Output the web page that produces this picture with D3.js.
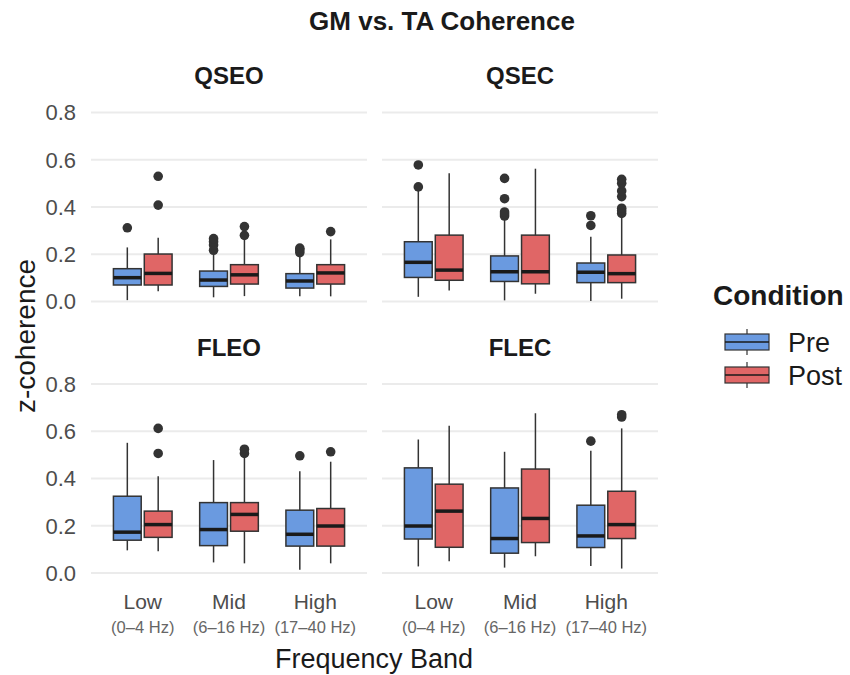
<!DOCTYPE html>
<html>
<head>
<meta charset="utf-8">
<script src="https://cdn.jsdelivr.net/npm/d3@7"></script>
<style>
body { margin: 0; background: #fff; }
text { font-family: "Liberation Sans", Arial, sans-serif; }
</style>
</head>
<body>
<div id="chart"></div>
<script>
// categories and labels
var bands = ["Low", "Mid", "High"];
var bandRanges = ["(0–4 Hz)", "(6–16 Hz)", "(17–40 Hz)"];
var conditions = ["Pre", "Post"];
var yTicks = [0, 0.2, 0.4, 0.6, 0.8];
var panelNames = ["QSEO", "QSEC", "FLEO", "FLEC"];

// box stats: band, condition, lower whisker, q1, median, q3, upper whisker, outliers
var qseo = [
    ["Low", "Pre", 0.006, 0.070, 0.101, 0.139, 0.229, [0.312]],
    ["Low", "Post", 0.044, 0.070, 0.119, 0.201, 0.270, [0.408, 0.530]],
    ["Mid", "Pre", 0.018, 0.064, 0.091, 0.129, 0.204, [0.217, 0.239, 0.253, 0.266]],
    ["Mid", "Post", 0.023, 0.074, 0.113, 0.156, 0.267, [0.280, 0.317]],
    ["High", "Pre", 0.022, 0.057, 0.087, 0.118, 0.197, [0.207, 0.218, 0.226]],
    ["High", "Post", 0.022, 0.074, 0.121, 0.156, 0.263, [0.296]]
];
var qsec = [
    ["Low", "Pre", 0.020, 0.102, 0.166, 0.253, 0.470, [0.485, 0.578]],
    ["Low", "Post", 0.047, 0.090, 0.133, 0.281, 0.543, []],
    ["Mid", "Pre", 0.005, 0.085, 0.126, 0.193, 0.352, [0.362, 0.370, 0.379, 0.435, 0.521]],
    ["Mid", "Post", 0.033, 0.075, 0.126, 0.281, 0.562, []],
    ["High", "Pre", 0.002, 0.080, 0.124, 0.163, 0.274, [0.322, 0.363]],
    ["High", "Post", 0.012, 0.080, 0.118, 0.197, 0.359, [0.373, 0.384, 0.395, 0.444, 0.468, 0.500, 0.517]]
];
var fleo = [
    ["Low", "Pre", 0.096, 0.139, 0.173, 0.325, 0.551, []],
    ["Low", "Post", 0.092, 0.151, 0.205, 0.262, 0.410, [0.506, 0.612]],
    ["Mid", "Pre", 0.045, 0.116, 0.184, 0.298, 0.478, []],
    ["Mid", "Post", 0.041, 0.177, 0.248, 0.298, 0.492, [0.506, 0.524]],
    ["High", "Pre", 0.014, 0.114, 0.164, 0.266, 0.431, [0.496]],
    ["High", "Post", 0.041, 0.114, 0.199, 0.273, 0.471, [0.513]]
];
var flec = [
    ["Low", "Pre", 0.028, 0.144, 0.199, 0.445, 0.565, []],
    ["Low", "Post", 0.050, 0.109, 0.262, 0.376, 0.623, []],
    ["Mid", "Pre", 0.023, 0.084, 0.146, 0.360, 0.513, []],
    ["Mid", "Post", 0.071, 0.129, 0.231, 0.440, 0.676, []],
    ["High", "Pre", 0.030, 0.108, 0.157, 0.287, 0.517, [0.558]],
    ["High", "Post", 0.019, 0.146, 0.205, 0.346, 0.612, [0.660, 0.670]]
];
var panelData = [qseo, qsec, fleo, flec];

var fillColors = ["#6a9ae0", "#e06666"];

// layout
var width = 850, height = 675;
var panelW = 276, panelH = 208;
var panelX = [91, 382];
var panelY = [103, 374.5];

var svg = d3.select("#chart")
    .append("svg")
    .attr("width", width)
    .attr("height", height);

var color = d3.scaleOrdinal().domain(conditions).range(fillColors);

// title
svg.append("text")
    .attr("x", 442)
    .attr("y", 30)
    .attr("text-anchor", "middle")
    .style("font-size", "26px")
    .style("font-weight", "bold")
    .attr("fill", "#1a1a1a")
    .text("GM vs. TA Coherence");

panelNames.forEach(function (name, i) {
    var col = i % 2, row = Math.floor(i / 2);
    var x0 = panelX[col], y0 = panelY[row];

    var x = d3.scalePoint()
        .domain(bands)
        .range([x0, x0 + panelW])
        .padding(0.6);
    var dodge = d3.scaleBand()
        .domain(conditions)
        .range([-x.step() * 0.34, x.step() * 0.34])
        .paddingInner(0.1);
    var y = d3.scaleLinear()
        .domain([-0.04, 0.84])
        .range([y0 + panelH, y0]);

    var g = svg.append("g");

    // gridlines
    g.selectAll(".grid")
        .data(yTicks)
        .enter()
        .append("line")
        .attr("x1", x0)
        .attr("x2", x0 + panelW)
        .attr("y1", function (d) { return y(d); })
        .attr("y2", function (d) { return y(d); })
        .attr("stroke", "#ebebeb")
        .attr("stroke-width", 2);

    // strip title
    g.append("text")
        .attr("x", x0 + panelW / 2)
        .attr("y", y0 - 19)
        .attr("text-anchor", "middle")
        .style("font-size", "24px")
        .style("font-weight", "bold")
        .attr("fill", "#1a1a1a")
        .text(name);

    // y tick labels on the left column
    if (col == 0) {
        g.selectAll(".ytick")
            .data(yTicks)
            .enter()
            .append("text")
            .attr("x", x0 - 15)
            .attr("y", function (d) { return y(d); })
            .attr("dy", "0.36em")
            .attr("text-anchor", "end")
            .style("font-size", "22px")
            .attr("fill", "#4d4d4d")
            .text(function (d) { return d3.format(".1f")(d); });
    }

    // x tick labels on the bottom row
    if (row == 1) {
        bands.forEach(function (b, j) {
            g.append("text")
                .attr("x", x(b))
                .attr("y", 609)
                .attr("text-anchor", "middle")
                .style("font-size", "21px")
                .attr("fill", "#4d4d4d")
                .text(b);
            g.append("text")
                .attr("x", x(b))
                .attr("y", 633)
                .attr("text-anchor", "middle")
                .style("font-size", "16.5px")
                .attr("fill", "#666")
                .text(bandRanges[j]);
        });
    }

    var rows = panelData[i];
    var bw = dodge.bandwidth();
    function cx(d) { return x(d[0]) + dodge(d[1]) + bw / 2; }

    // whiskers
    g.selectAll(".whisker")
        .data(rows)
        .enter()
        .append("line")
        .attr("x1", cx)
        .attr("x2", cx)
        .attr("y1", function (d) { return y(d[2]); })
        .attr("y2", function (d) { return y(d[6]); })
        .attr("stroke", "#333")
        .attr("stroke-width", 1.5);

    // boxes
    g.selectAll(".box")
        .data(rows)
        .enter()
        .append("rect")
        .attr("x", function (d) { return cx(d) - bw / 2; })
        .attr("width", bw)
        .attr("y", function (d) { return y(d[5]); })
        .attr("height", function (d) { return y(d[3]) - y(d[5]); })
        .attr("fill", function (d) { return color(d[1]); })
        .attr("stroke", "#333")
        .attr("stroke-width", 1.5);

    // medians
    g.selectAll(".median")
        .data(rows)
        .enter()
        .append("line")
        .attr("x1", function (d) { return cx(d) - bw / 2; })
        .attr("x2", function (d) { return cx(d) + bw / 2; })
        .attr("y1", function (d) { return y(d[4]); })
        .attr("y2", function (d) { return y(d[4]); })
        .attr("stroke", "#1a1a1a")
        .attr("stroke-width", 3.5);

    // outliers
    var outs = [];
    rows.forEach(function (d) {
        d[7].forEach(function (v) { outs.push({ x: cx(d), v: v }); });
    });
    g.selectAll(".outlier")
        .data(outs)
        .enter()
        .append("circle")
        .attr("cx", function (d) { return d.x; })
        .attr("cy", function (d) { return y(d.v); })
        .attr("r", 4.8)
        .attr("fill", "#333");
});

// axis titles
svg.append("text")
    .attr("x", 374)
    .attr("y", 668)
    .attr("text-anchor", "middle")
    .style("font-size", "27px")
    .attr("fill", "#1a1a1a")
    .text("Frequency Band");

svg.append("text")
    .attr("transform", "translate(35,336) rotate(-90)")
    .attr("text-anchor", "middle")
    .style("font-size", "28px")
    .attr("fill", "#1a1a1a")
    .text("z-coherence");

// legend
var legend = svg.append("g").attr("transform", "translate(713,0)");
legend.append("text")
    .attr("x", 0)
    .attr("y", 305)
    .style("font-size", "28px")
    .style("font-weight", "bold")
    .attr("fill", "#1a1a1a")
    .text("Condition");

var keyY = d3.scalePoint().domain(conditions).range([342, 375]);
conditions.forEach(function (c) {
    var k = legend.append("g").attr("transform", "translate(12," + keyY(c) + ")");
    k.append("line")
        .attr("x1", 22).attr("x2", 22)
        .attr("y1", -13).attr("y2", 13)
        .attr("stroke", "#333")
        .attr("stroke-width", 1.2);
    k.append("rect")
        .attr("x", 0).attr("y", -8)
        .attr("width", 44).attr("height", 16)
        .attr("fill", color(c))
        .attr("stroke", "#333")
        .attr("stroke-width", 1.2);
    k.append("line")
        .attr("x1", 0).attr("x2", 44)
        .attr("y1", 0).attr("y2", 0)
        .attr("stroke", "#1a1a1a")
        .attr("stroke-width", 1.5);
    legend.append("text")
        .attr("x", 75)
        .attr("y", keyY(c))
        .attr("dy", "0.36em")
        .style("font-size", "27px")
        .attr("fill", "#1a1a1a")
        .text(c);
});
</script>
</body>
</html>
